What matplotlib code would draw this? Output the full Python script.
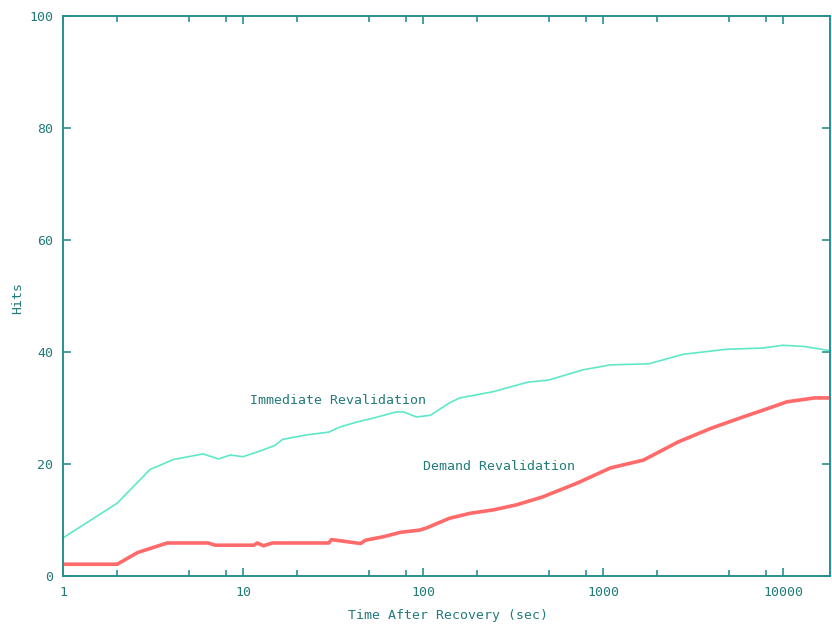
import numpy as np
import matplotlib
matplotlib.use("Agg")
import matplotlib.pyplot as plt
from matplotlib.ticker import FixedLocator, FixedFormatter

# Immediate revalidation (cyan)
imm_t = [1, 2, 3.04, 4.1, 6, 7.3, 8.5, 10, 12.9, 15, 16.6, 22.6, 30, 34.5, 43, 53,
         71, 78, 92, 110, 140, 160, 245, 380, 500, 770, 1100, 1800, 2800, 4900,
         7700, 10000, 13000, 18600]
imm_hits = [6.8, 13, 19, 20.8, 21.8, 20.9, 21.6, 21.3, 22.5, 23.3, 24.4, 25.2, 25.7,
            26.6, 27.5, 28.2, 29.3, 29.3, 28.4, 28.7, 30.9, 31.8, 32.9, 34.6, 35,
            36.8, 37.7, 37.9, 39.6, 40.5, 40.7, 41.2, 41, 40.2]

# Demand revalidation (red)
dem_t = [1, 2, 2.6, 3.8, 6.4, 7, 10, 11.5, 12, 13, 14.6, 30, 31, 45, 48, 60, 75, 96,
         105, 140, 183, 245, 330, 460, 720, 1100, 1680, 2600, 4000, 6000, 8400,
         10500, 15000, 18600]
dem_hits = [2.1, 2.1, 4.2, 5.9, 5.9, 5.5, 5.5, 5.5, 5.9, 5.4, 5.9, 5.9, 6.5, 5.8, 6.4,
            7, 7.8, 8.2, 8.6, 10.3, 11.2, 11.8, 12.7, 14.1, 16.6, 19.3, 20.7, 23.9,
            26.4, 28.4, 30, 31.1, 31.8, 31.8]

x_ticks = [1, 10, 100, 1000, 10000]
x_labels = ["1", "10", "100", "1000", "10000"]
y_ticks = [0, 20, 40, 60, 80, 100]

axis_col = "#2a8f8f"
text_col = "#237a7a"
font = {"family": "DejaVu Sans Mono", "size": 9.5, "color": text_col}

fig = plt.figure(figsize=(8.32, 6.27), dpi=100)
ax = fig.add_axes([63 / 832, 1 - 576 / 627, 767 / 832, 560 / 627])

ax.plot(imm_t, imm_hits, color="#5ee8c8", lw=1.2)
ax.plot(dem_t, dem_hits, color="#ff6a6a", lw=2.6)

ax.set_xscale("log")
ax.set_xlim(1, 10 ** (767 / 180))
ax.set_ylim(0, 100)

ax.xaxis.set_major_locator(FixedLocator(x_ticks))
ax.xaxis.set_major_formatter(FixedFormatter(x_labels))
minors = [m * 10 ** d for d in range(0, 5) for m in (2, 5, 8)]
ax.xaxis.set_minor_locator(FixedLocator(minors))
ax.xaxis.set_minor_formatter(FixedFormatter([""] * len(minors)))
ax.set_yticks(y_ticks)

for s in ax.spines.values():
    s.set_color(axis_col)
    s.set_linewidth(1.4)

ax.tick_params(which="both", direction="in", top=True, right=True, color=axis_col,
               labelcolor=text_col, labelsize=9.5)
ax.tick_params(which="major", length=6, width=1.2, pad=7)
ax.tick_params(which="minor", length=4, width=1.2)
for lab in ax.get_xticklabels() + ax.get_yticklabels():
    lab.set_family("DejaVu Sans Mono")

ax.text(11, 31.4, "Immediate Revalidation", fontdict=font, ha="left", va="center")
ax.text(100, 19.6, "Demand Revalidation", fontdict=font, ha="left", va="center")

fig.text(448 / 832, 1 - 616 / 627, "Time After Recovery (sec)", fontdict=font,
         ha="center", va="center")
fig.text(18 / 832, 1 - 298 / 627, "Hits", fontdict=font, rotation=90,
         ha="center", va="center")

fig.savefig("out.png", dpi=100)
